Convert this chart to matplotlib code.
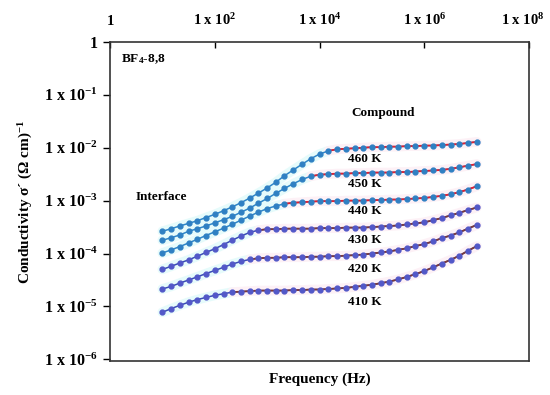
import numpy as np
import matplotlib
matplotlib.use('Agg')
import matplotlib.pyplot as plt
import matplotlib.transforms as mtransforms
from matplotlib.ticker import FixedLocator, NullLocator

plt.rcParams['font.family'] = ['Liberation Serif', 'DejaVu Serif']
plt.rcParams['font.weight'] = 'bold'
plt.rcParams['mathtext.fontset'] = 'custom'
plt.rcParams['mathtext.rm'] = 'Liberation Serif:bold'
plt.rcParams['mathtext.bf'] = 'Liberation Serif:bold'
plt.rcParams['mathtext.it'] = 'Liberation Serif:bold'

# log10 of frequency (Hz), 6 points per decade
log_freq = [1.00, 1.17, 1.33, 1.50, 1.67, 1.83, 2.00, 2.17, 2.33, 2.50,
            2.67, 2.83, 3.00, 3.17, 3.33, 3.50, 3.67, 3.83, 4.00, 4.17,
            4.33, 4.50, 4.67, 4.83, 5.00, 5.17, 5.33, 5.50, 5.67, 5.83,
            6.00, 6.17, 6.33, 6.50, 6.67, 6.83, 7.00]

# log10 of conductivity for each temperature
s460 = [-3.58, -3.53, -3.48, -3.43, -3.38, -3.32, -3.26, -3.19, -3.12, -3.04,
        -2.95, -2.86, -2.76, -2.65, -2.53, -2.42, -2.31, -2.21, -2.12, -2.06,
        -2.03, -2.02, -2.01, -2.00, -1.99, -1.99, -1.98, -1.98, -1.97, -1.97,
        -1.96, -1.96, -1.95, -1.94, -1.93, -1.91, -1.89]
s450 = [-3.75, -3.70, -3.65, -3.58, -3.53, -3.48, -3.42, -3.36, -3.30, -3.22,
        -3.14, -3.05, -2.96, -2.86, -2.77, -2.68, -2.60, -2.54, -2.51, -2.50,
        -2.49, -2.49, -2.48, -2.48, -2.47, -2.47, -2.47, -2.46, -2.46, -2.45,
        -2.44, -2.43, -2.42, -2.40, -2.37, -2.34, -2.31]
s440 = [-3.99, -3.93, -3.87, -3.80, -3.73, -3.66, -3.59, -3.52, -3.45, -3.37,
        -3.29, -3.22, -3.15, -3.10, -3.06, -3.04, -3.03, -3.02, -3.01, -3.01,
        -3.01, -3.00, -3.00, -3.00, -2.99, -2.99, -2.98, -2.98, -2.97, -2.96,
        -2.95, -2.93, -2.91, -2.88, -2.84, -2.79, -2.73]
s430 = [-4.30, -4.24, -4.18, -4.12, -4.05, -3.98, -3.91, -3.83, -3.75, -3.67,
        -3.60, -3.56, -3.54, -3.54, -3.53, -3.53, -3.53, -3.53, -3.52, -3.52,
        -3.52, -3.51, -3.51, -3.51, -3.50, -3.49, -3.48, -3.47, -3.45, -3.43,
        -3.41, -3.37, -3.33, -3.28, -3.23, -3.18, -3.13]
s420 = [-4.67, -4.62, -4.56, -4.50, -4.44, -4.38, -4.32, -4.26, -4.20, -4.15,
        -4.11, -4.09, -4.08, -4.08, -4.07, -4.07, -4.07, -4.06, -4.06, -4.05,
        -4.05, -4.04, -4.03, -4.02, -4.00, -3.98, -3.96, -3.93, -3.90, -3.86,
        -3.82, -3.77, -3.71, -3.66, -3.60, -3.53, -3.46]
s410 = [-5.11, -5.04, -4.98, -4.92, -4.87, -4.83, -4.79, -4.76, -4.73, -4.72,
        -4.71, -4.70, -4.70, -4.70, -4.70, -4.69, -4.69, -4.68, -4.68, -4.67,
        -4.66, -4.65, -4.63, -4.61, -4.59, -4.56, -4.53, -4.49, -4.44, -4.39,
        -4.33, -4.26, -4.19, -4.12, -4.04, -3.95, -3.86]

temps = ['460 K', '450 K', '440 K', '430 K', '420 K', '410 K']
series = [s460, s450, s440, s430, s420, s410]
fit_start = [19, 17, 14, 11, 10, 8]   # index where the compound fit begins

# label positions (Hz, S/cm)
label_x = [7.4e4] * 6
label_y = [6.2e-3, 2.1e-3, 6.5e-4, 1.8e-4, 5.0e-5, 1.2e-5]

freq = 10 ** np.array(log_freq)

fig = plt.figure(figsize=(5.5, 3.95), dpi=100)
ax = fig.add_axes([0.2, 0.086, 0.762, 0.808])

for i, s in enumerate(series):
    sig = 10 ** np.array(s)
    k = fit_start[i]
    if i < 3:
        mcol, lcol, fcol = '#2f80c3', '#2f86c8', '#e3202f'
    else:
        mcol, lcol, fcol = '#5258c8', '#3a4db5', '#7b3a3a'
    # faint halo behind the data
    ax.plot(freq[:k + 1], sig[:k + 1], color='#e6fbfb', lw=7, solid_capstyle='round', zorder=1)
    ax.plot(freq[k:], sig[k:], color='#fdf1f6', lw=7, solid_capstyle='round', zorder=1)
    ax.plot(freq, sig, color=lcol, lw=1.1, zorder=2)
    ax.plot(freq[k:], sig[k:], color=fcol, lw=1.3, zorder=3)
    ax.plot(freq, sig, 'o', color=mcol, ms=3.5, mec=mcol, zorder=4)
    ax.text(label_x[i], label_y[i], temps[i], fontsize=9.5, fontweight='bold',
            ha='center', va='center', zorder=5)

ax.text(1.6e5, 4.6e-2, 'Compound', fontsize=9.5, ha='center', va='center')
ax.text(9.5, 1.15e-3, 'Interface', fontsize=9.5, ha='center', va='center')
ax.text(1.65, 0.48, r'BF$_{4}$-8,8', fontsize=9.5, ha='left', va='center')

ax.set_xscale('log')
ax.set_yscale('log')
ax.set_xlim(1, 1e8)
ax.set_ylim(0.93e-6, 1)

ax.xaxis.set_major_locator(FixedLocator([1, 1e2, 1e4, 1e6, 1e8]))
ax.xaxis.set_minor_locator(NullLocator())
ax.set_xticklabels(['1', r'1 x 10$^{2}$', r'1 x 10$^{4}$', r'1 x 10$^{6}$', r'1 x 10$^{8}$'])
ax.xaxis.tick_top()
ax.tick_params(axis='x', direction='in', length=4, width=1, pad=10, labelsize=10.5)
last = ax.get_xticklabels()[-1]
last.set_transform(last.get_transform() + mtransforms.ScaledTranslation(-6 / 100, 0, fig.dpi_scale_trans))

ax.yaxis.set_major_locator(FixedLocator([1e-6, 1e-5, 1e-4, 1e-3, 1e-2, 1e-1, 1]))
ax.yaxis.set_minor_locator(NullLocator())
ax.set_yticklabels([r'1 x 10$^{-6}$', r'1 x 10$^{-5}$', r'1 x 10$^{-4}$', r'1 x 10$^{-3}$',
                    r'1 x 10$^{-2}$', r'1 x 10$^{-1}$', '1'])
ax.tick_params(axis='y', direction='out', length=5, width=1, pad=4, labelsize=11.5)

for sp in ax.spines.values():
    sp.set_color('#333333')
    sp.set_linewidth(1.2)

ax.set_xlabel('Frequency (Hz)', fontsize=11, fontweight='bold', labelpad=8)
ax.set_ylabel(r'Conductivity σ´ (Ω cm)$^{-1}$', fontsize=11, fontweight='bold', labelpad=6)

fig.savefig('out.png', dpi=100)
